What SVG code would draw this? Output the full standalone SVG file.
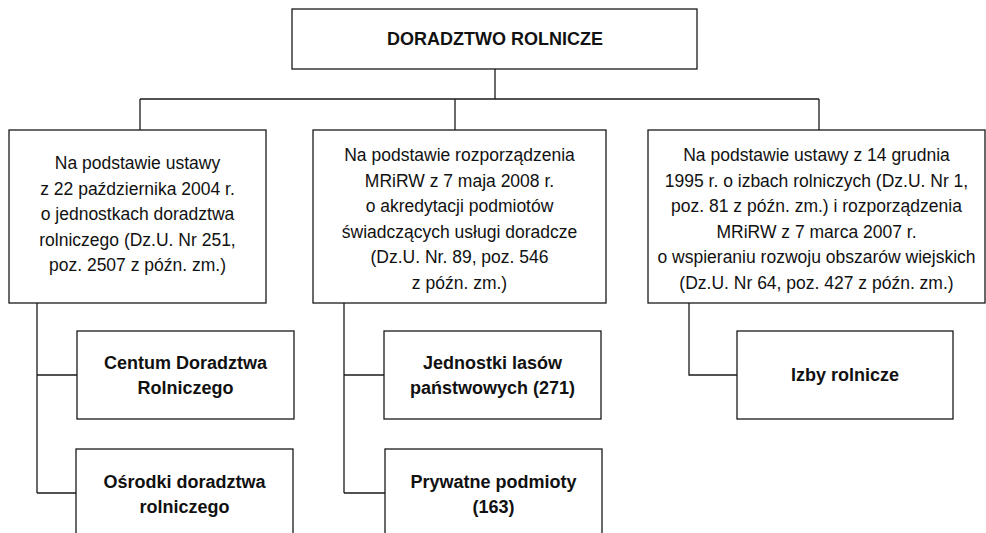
<svg xmlns="http://www.w3.org/2000/svg" width="986" height="533" viewBox="0 0 986 533">
<style>
.box{fill:#fff;stroke:#1a1a1a;stroke-width:1.3}
.ln{fill:none;stroke:#1a1a1a;stroke-width:1.3}
.t{font-family:"Liberation Sans",Arial,sans-serif;font-size:17.5px;fill:#111;text-anchor:middle}
.b{font-family:"Liberation Sans",Arial,sans-serif;font-size:18px;font-weight:bold;fill:#111;text-anchor:middle}
</style>
<rect width="986" height="533" fill="#fff"/>
<g id="connectors">
<path class="ln" d="M495 69V99M140 99H819M140 99V130M455 99V130M819 99V130"/>
<path class="ln" d="M37 303V493M37 375H77M37 493H76"/>
<path class="ln" d="M344 303V493M344 375H384M344 493H385"/>
<path class="ln" d="M689 303V375H737"/>
</g>
<g id="root">
<rect class="box" x="292" y="9" width="405" height="60"/>
<text class="b" x="495" y="45">DORADZTWO ROLNICZE</text>
</g>
<g id="law1">
<rect class="box" x="9" y="130" width="257" height="173"/>
<text class="t" x="137.5"><tspan x="137.5" y="169">Na podstawie ustawy</tspan><tspan x="137.5" y="194.5">z 22 października 2004 r.</tspan><tspan x="137.5" y="220">o jednostkach doradztwa</tspan><tspan x="137.5" y="245.5">rolniczego (Dz.U. Nr 251,</tspan><tspan x="137.5" y="271">poz. 2507 z późn. zm.)</tspan></text>
</g>
<g id="law2">
<rect class="box" x="313" y="130" width="293" height="173"/>
<text class="t" x="459.5"><tspan x="459.5" y="161">Na podstawie rozporządzenia</tspan><tspan x="459.5" y="186.5">MRiRW z 7 maja 2008 r.</tspan><tspan x="459.5" y="212">o akredytacji podmiotów</tspan><tspan x="459.5" y="237.5">świadczących usługi doradcze</tspan><tspan x="459.5" y="263">(Dz.U. Nr. 89, poz. 546</tspan><tspan x="459.5" y="288.5">z późn. zm.)</tspan></text>
</g>
<g id="law3">
<rect class="box" x="648" y="130" width="337" height="173"/>
<text class="t" x="816.5"><tspan x="816.5" y="161">Na podstawie ustawy z 14 grudnia</tspan><tspan x="816.5" y="186.5">1995 r. o izbach rolniczych (Dz.U. Nr 1,</tspan><tspan x="816.5" y="212">poz. 81 z późn. zm.) i rozporządzenia</tspan><tspan x="816.5" y="237.5">MRiRW z 7 marca 2007 r.</tspan><tspan x="816.5" y="263">o wspieraniu rozwoju obszarów wiejskich</tspan><tspan x="816.5" y="288.5">(Dz.U. Nr 64, poz. 427 z późn. zm.)</tspan></text>
</g>
<g id="cdr">
<rect class="box" x="77" y="331" width="217" height="88"/>
<text class="b" x="185.5"><tspan x="185.5" y="369">Centum Doradztwa</tspan><tspan x="185.5" y="394">Rolniczego</tspan></text>
</g>
<g id="odr">
<rect class="box" x="76" y="449" width="217" height="88"/>
<text class="b" x="184.5"><tspan x="184.5" y="488">Ośrodki doradztwa</tspan><tspan x="184.5" y="513">rolniczego</tspan></text>
</g>
<g id="jlp">
<rect class="box" x="384" y="331" width="217" height="88"/>
<text class="b" x="492.5"><tspan x="492.5" y="369">Jednostki lasów</tspan><tspan x="492.5" y="394">państwowych (271)</tspan></text>
</g>
<g id="pp">
<rect class="box" x="385" y="449" width="217" height="88"/>
<text class="b" x="493.5"><tspan x="493.5" y="488">Prywatne podmioty</tspan><tspan x="493.5" y="513">(163)</tspan></text>
</g>
<g id="izby">
<rect class="box" x="737" y="331" width="216" height="88"/>
<text class="b" x="845" y="381">Izby rolnicze</text>
</g>
</svg>
